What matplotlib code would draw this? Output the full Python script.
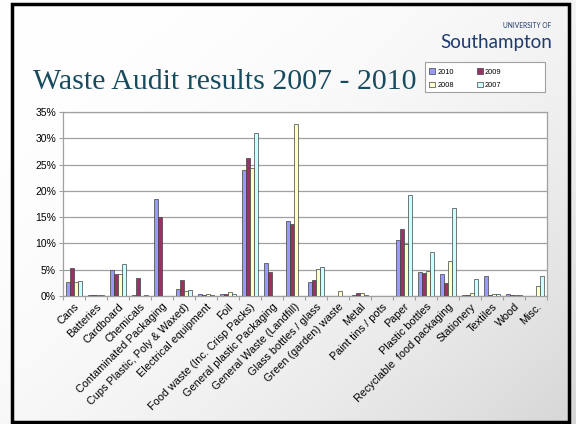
import numpy as np
import matplotlib
matplotlib.use("Agg")
import matplotlib.pyplot as plt
from matplotlib.patches import Rectangle, Patch

categories = ["Cans", "Batteries", "Cardboard", "Chemicals", "Contaminated Packaging",
              "Cups Plastic, Poly & Waxed)", "Electrical equipment", "Foil",
              "Food waste (Inc. Crisp Packs)", "General plastic Packaging",
              "General Waste (Landfill)", "Glass bottles / glass", "Green (garden) waste",
              "Metal", "Paint tins / pots", "Paper", "Plastic bottles",
              "Recyclable  food packaging", "Stationery", "Textiles", "Wood", "Misc."]

v2010 = [2.7, 0.1, 5.0, 0.1, 18.5, 1.4, 0.4, 0.3, 23.9, 6.2, 14.3, 2.7, 0.0, 0.1, 0.0, 10.6, 4.6, 4.1, 0.1, 3.8, 0.3, 0.0]
v2009 = [5.4, 0.1, 4.1, 3.5, 15.0, 3.0, 0.1, 0.3, 26.2, 4.5, 13.7, 3.1, 0.0, 0.65, 0.0, 12.7, 4.3, 2.4, 0.1, 0.2, 0.1, 0.0]
v2008 = [2.6, 0.1, 4.2, 0.0, 0.0, 1.0, 0.3, 0.7, 24.4, 0.0, 32.8, 5.1, 1.0, 0.6, 0.0, 9.9, 4.8, 6.6, 0.6, 0.4, 0.1, 1.9]
v2007 = [2.8, 0.1, 6.0, 0.2, 0.0, 1.2, 0.1, 0.4, 31.0, 0.0, 0.0, 5.6, 0.0, 0.1, 0.0, 19.2, 8.3, 16.8, 3.3, 0.4, 0.1, 3.8]

series_names = ["2010", "2009", "2008", "2007"]
series_vals = [v2010, v2009, v2008, v2007]
colors = ["#9999FF", "#993366", "#FFFFCC", "#CCFFFF"]
yticks = [0, 5, 10, 15, 20, 25, 30, 35]
ytick_labels = ["0%", "5%", "10%", "15%", "20%", "25%", "30%", "35%"]

W, H = 576, 424
fig = plt.figure(figsize=(W / 100, H / 100), dpi=100)

# slide background gradient
bg = fig.add_axes([0, 0, 1, 1], zorder=-10)
xx, yy = np.meshgrid(np.linspace(0, 1, 300), np.linspace(0, 1, 300))
g = np.clip((0.55 * xx + 0.45 * yy), 0, 1)
shade = 1.0 - 0.16 * g ** 2.2
bg.imshow(np.dstack([shade, shade, shade]), extent=[0, 1, 0, 1], origin="upper",
          aspect="auto")
bg.set_xlim(0, 1)
bg.set_ylim(0, 1)
bg.axis("off")

# slide frame
fig.patches.append(Rectangle((12 / W, 1 - 422 / H), (569 - 12) / W, (422 - 4) / H,
                             transform=fig.transFigure, fill=False,
                             edgecolor="black", linewidth=2.5, zorder=5))

# title and logo
fig.text(33 / W, 1 - 89 / H, "Waste Audit results 2007 - 2010", family="Liberation Serif",
         fontsize=21.5, color="#174B5E", ha="left", va="baseline")
fig.text(552 / W, 1 - 48 / H, "Southampton", family="Lato",
         fontsize=13.5, color="#1E3A6E", ha="right", va="baseline")
fig.text(551 / W, 1 - 28 / H, "UNIVERSITY OF", family="Lato",
         fontsize=4.8, color="#1E3A6E", ha="right", va="baseline")

# main chart
ax = fig.add_axes([63 / W, 1 - 296 / H, (547 - 63) / W, (296 - 112) / H])
ax.set_facecolor("white")
n = len(categories)
x = np.arange(n)
bw = 0.75 / 4
for i, (name, vals, c) in enumerate(zip(series_names, series_vals, colors)):
    ax.bar(x - 0.375 + bw * (i + 0.5), vals, width=bw, color=c, edgecolor="#404040",
           linewidth=0.5, label=name, zorder=3)

ax.set_xlim(-0.5, n - 0.5)
ax.set_ylim(0, 35)
ax.set_yticks(yticks)
ax.set_yticklabels(ytick_labels, family="Liberation Sans", fontsize=7.5)
ax.yaxis.grid(True, color="#a0a0a0", linewidth=0.9, zorder=0)
ax.set_axisbelow(True)
for s in ax.spines.values():
    s.set_color("#a0a0a0")
    s.set_linewidth(0.9)
ax.tick_params(axis="y", direction="out", length=3, color="#a0a0a0", pad=2)
ax.set_xticks(np.arange(n + 1) - 0.5, minor=False)
ax.set_xticklabels([])
ax.tick_params(axis="x", direction="out", length=3, color="#a0a0a0")
ax.set_xticks(x, minor=True)
ax.set_xticklabels(categories, minor=True, rotation=45, ha="right",
                   rotation_mode="anchor", family="Liberation Sans", fontsize=7.8)
ax.tick_params(axis="x", which="minor", length=0, pad=4)

# legend box (Excel style: wide box with extra room on the right)
fig.patches.append(Rectangle((425 / W, 1 - 92 / H), 120 / W, 30 / H,
                             transform=fig.transFigure, facecolor="white",
                             edgecolor="#a0a0a0", linewidth=0.8, zorder=1))
handles = [Patch(facecolor=c, edgecolor="#404040", linewidth=0.5) for c in colors]
order = [0, 2, 1, 3]
leg = fig.legend([handles[i] for i in order], [series_names[i] for i in order],
                 ncol=2, loc="upper left",
                 bbox_to_anchor=(428 / W, 1 - 67 / H),
                 borderaxespad=0, borderpad=0.2,
                 prop={"family": "Liberation Sans", "size": 5.3},
                 frameon=False,
                 handlelength=0.8, handleheight=0.8, handletextpad=0.3,
                 columnspacing=3.1, labelspacing=0.8)
leg.set_zorder(6)

fig.savefig("out.png", dpi=100)
